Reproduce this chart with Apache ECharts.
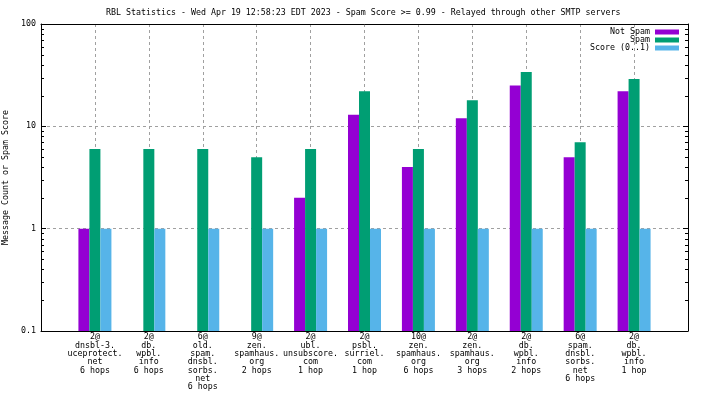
<!DOCTYPE html>
<html>
<head>
<meta charset="utf-8">
<script src="https://cdn.jsdelivr.net/npm/echarts@6/dist/echarts.min.js"></script>
<style>html,body{margin:0;padding:0;background:#fff}#c{width:704px;height:396px}</style>
</head>
<body>
<div id="c"></div>
<script>
const categories = [
  "2@\ndnsbl-3.\nuceprotect.\nnet\n6 hops",
  "2@\ndb.\nwpbl.\ninfo\n6 hops",
  "6@\nold.\nspam.\ndnsbl.\nsorbs.\nnet\n6 hops",
  "9@\nzen.\nspamhaus.\norg\n2 hops",
  "2@\nubl.\nunsubscore.\ncom\n1 hop",
  "2@\npsbl.\nsurriel.\ncom\n1 hop",
  "10@\nzen.\nspamhaus.\norg\n6 hops",
  "2@\nzen.\nspamhaus.\norg\n3 hops",
  "2@\ndb.\nwpbl.\ninfo\n2 hops",
  "6@\nspam.\ndnsbl.\nsorbs.\nnet\n6 hops",
  "2@\ndb.\nwpbl.\ninfo\n1 hop"
];
const notSpam = [1, null, null, null, 2, 13, 4, 12, 25, 5, 22];
const spam = [6, 6, 6, 5, 6, 22, 6, 18, 34, 7, 29];
const score = [1, 1, 1, 1, 1, 1, 1, 1, 1, 1, 1];
const minorTickValues = [0.2,0.3,0.4,0.5,0.6,0.7,0.8,0.9,2,3,4,5,6,7,8,9,20,30,40,50,60,70,80,90];
const titleText = "RBL Statistics - Wed Apr 19 12:58:23 EDT 2023 - Spam Score >= 0.99 - Relayed through other SMTP servers";
const yAxisName = "Message Count or Spam Score";

const FONT = "DejaVu Sans Mono";
const FS = 8.3;
const pad = arr => [null].concat(arr, [null]);
const xCats = [''].concat(categories, ['']);

const chart = echarts.init(document.getElementById('c'), null, {renderer: 'canvas'});
const barBase = {type: 'bar', barWidth: 11, barGap: '0%', xAxisIndex: 0, yAxisIndex: 0, animation: false};
chart.setOption({
  animation: false,
  textStyle: {fontFamily: FONT, fontSize: FS, color: '#000'},
  title: {
    text: titleText, left: 101, top: 4,
    textStyle: {fontFamily: FONT, fontSize: FS, fontWeight: 'normal', color: '#000'}
  },
  legend: {
    orient: 'vertical', right: 20, top: 23, align: 'right',
    itemWidth: 24, itemHeight: 5, itemGap: 0,
    icon: 'rect',
    textStyle: {fontFamily: FONT, fontSize: FS, color: '#000', lineHeight: 8},
    data: ['Not Spam', 'Spam', 'Score (0..1)']
  },
  grid: {left: 41, right: 16, top: 24, bottom: 65, containLabel: false, outerBoundsMode: 'none'},
  xAxis: [{
    type: 'category', data: xCats, boundaryGap: false, position: 'bottom',
    axisLine: {show: true, lineStyle: {color: '#000', width: 1}},
    axisTick: {show: false},
    axisLabel: {interval: 0, fontFamily: FONT, fontSize: FS, lineHeight: 8.3, margin: 2, color: '#000'},
    splitLine: {show: true, showMinLine: false, showMaxLine: false, lineStyle: {color: '#a0a0a0', type: [3, 3], width: 1}}
  }, {
    type: 'category', data: xCats, boundaryGap: false, position: 'top',
    axisLine: {show: true, lineStyle: {color: '#000', width: 1}},
    axisTick: {show: false}, axisLabel: {show: false}, splitLine: {show: false}
  }],
  yAxis: [{
    type: 'log', min: 0.1, max: 100, logBase: 10, startValue: 0.1, position: 'left',
    name: yAxisName, nameLocation: 'middle', nameGap: 29, nameRotate: 90,
    nameTextStyle: {fontFamily: FONT, fontSize: FS, color: '#000'},
    axisLine: {show: true, lineStyle: {color: '#000', width: 1}},
    axisTick: {show: true, inside: true, length: 5, lineStyle: {color: '#000'}},
    axisLabel: {fontFamily: FONT, fontSize: FS, color: '#000', margin: 5,
      formatter: v => String(+v.toPrecision(3))},
    splitLine: {show: true, showMinLine: false, showMaxLine: false, lineStyle: {color: '#a0a0a0', type: [3, 3], width: 1}}
  }, {
    type: 'log', min: 0.1, max: 100, logBase: 10, position: 'right',
    axisLine: {show: true, lineStyle: {color: '#000', width: 1}},
    axisTick: {show: true, inside: true, length: 5, lineStyle: {color: '#000'}},
    axisLabel: {show: false}, splitLine: {show: false}
  }],
  series: [
    Object.assign({}, barBase, {name: 'Not Spam', data: pad(notSpam), itemStyle: {color: '#9400d3'}}),
    Object.assign({}, barBase, {name: 'Spam', data: pad(spam), itemStyle: {color: '#009e73'}}),
    Object.assign({}, barBase, {name: 'Score (0..1)', data: pad(score), itemStyle: {color: '#56b4e9'}}),
    {
      type: 'custom', name: 'minorTicks', xAxisIndex: 0, yAxisIndex: 0, silent: true, z: 5,
      data: minorTickValues.map(v => [0, v]),
      renderItem: function (params, api) {
        const y = Math.round(api.coord([0, api.value(1)])[1]) + 0.5;
        const cs = params.coordSys;
        const l = cs.x, r = cs.x + cs.width;
        return {type: 'group', children: [
          {type: 'line', shape: {x1: l, y1: y, x2: l + 3, y2: y}, style: {stroke: '#000', lineWidth: 1}},
          {type: 'line', shape: {x1: r - 3, y1: y, x2: r, y2: y}, style: {stroke: '#000', lineWidth: 1}}
        ]};
      }
    }
  ]
});
</script>
</body>
</html>
